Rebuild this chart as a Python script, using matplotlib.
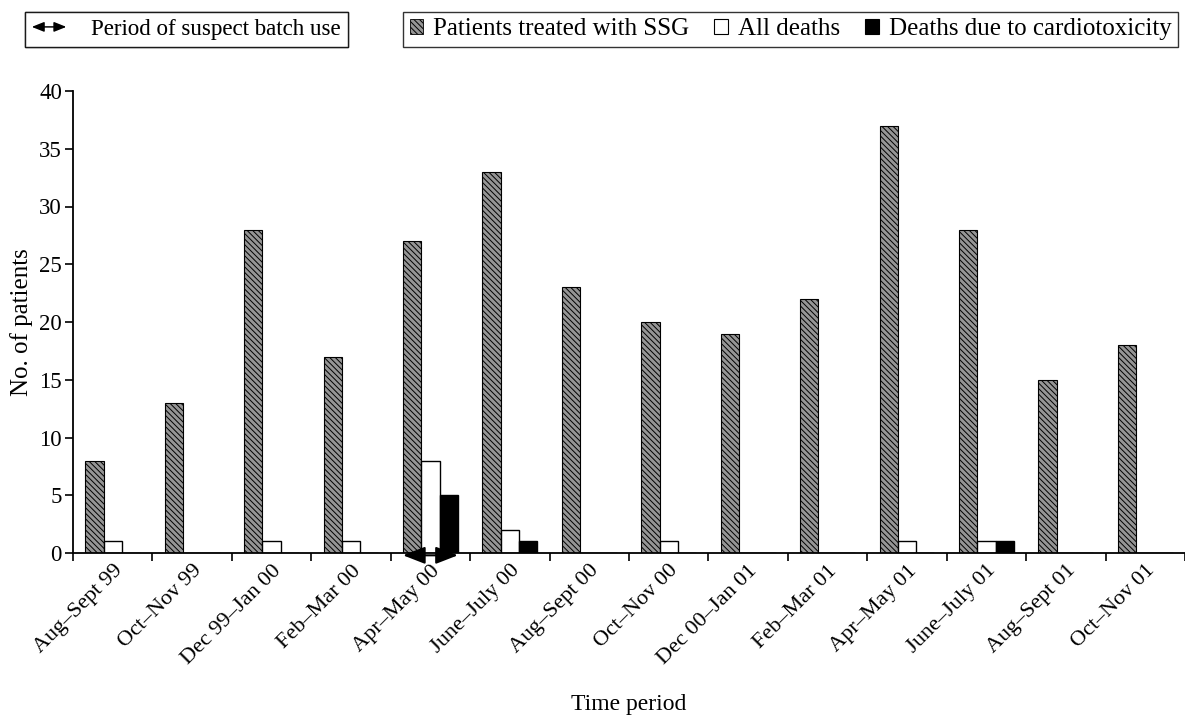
import numpy as np
import matplotlib
matplotlib.use("Agg")
from matplotlib import pyplot as plt
from matplotlib.patches import Patch, FancyArrowPatch
from matplotlib.legend_handler import HandlerBase

plt.rcParams['font.family'] = ['Liberation Serif', 'DejaVu Serif']
plt.rcParams['hatch.color'] = '#5e5e5e'
plt.rcParams['hatch.linewidth'] = 0.7

periods = ['Aug\u2013Sept 99', 'Oct\u2013Nov 99', 'Dec 99\u2013Jan 00', 'Feb\u2013Mar 00',
           'Apr\u2013May 00', 'June\u2013July 00', 'Aug\u2013Sept 00', 'Oct\u2013Nov 00',
           'Dec 00\u2013Jan 01', 'Feb\u2013Mar 01', 'Apr\u2013May 01', 'June\u2013July 01',
           'Aug\u2013Sept 01', 'Oct\u2013Nov 01']
treated = [8, 13, 28, 17, 27, 33, 23, 20, 19, 22, 37, 28, 15, 18]
all_deaths = [1, 0, 1, 1, 8, 2, 0, 1, 0, 0, 1, 1, 0, 0]
cardio_deaths = [0, 0, 0, 0, 5, 1, 0, 0, 0, 0, 0, 1, 0, 0]
suspect_period = 'Apr\u2013May 00'

FS = 16.5
GRAY = '#959595'
HATCH = '\\\\\\\\\\\\'


class HandlerArrow(HandlerBase):
    def create_artists(self, legend, orig_handle, xdescent, ydescent,
                       width, height, fontsize, trans):
        y = height / 2 - ydescent
        arr = FancyArrowPatch((-xdescent, y), (-xdescent + width, y),
                              arrowstyle='<|-|>,head_length=0.45,head_width=0.18',
                              mutation_scale=fontsize, color='black', lw=1.0,
                              shrinkA=0, shrinkB=0, transform=trans)
        return [arr]


fig = plt.figure(figsize=(11.85, 7.19), dpi=100)
ax = fig.add_axes([73 / 1185, 1 - 553 / 719, (1185 - 73) / 1185, (553 - 91) / 719])

x = np.arange(len(periods))
w = 0.23
ax.bar(x + 0.5 - w, treated, w, color=GRAY, edgecolor='black',
       linewidth=0.8, hatch=HATCH)
ax.bar(x + 0.5, all_deaths, w, color='white', edgecolor='black', linewidth=1.0)
ax.bar(x + 0.5 + w, cardio_deaths, w, color='black', edgecolor='black', linewidth=1.0)

# arrow under the suspect batch period
k = periods.index(suspect_period)
ax.annotate('', xy=(k + 0.5 - 1.5 * w, -0.2), xytext=(k + 0.5 + 1.5 * w, -0.2),
            arrowprops=dict(arrowstyle='<|-|>,head_length=0.9,head_width=0.35',
                            color='black', lw=1.5, shrinkA=0, shrinkB=0,
                            mutation_scale=15),
            annotation_clip=False, zorder=5)

ax.set_xlim(0, len(periods))
ax.set_ylim(0, 40)
ax.set_yticks(np.arange(0, 41, 5))
ax.set_xticks(np.arange(len(periods) + 1))
ax.set_xticklabels([])
ax.set_xticks(x + 0.5, minor=True)
ax.set_xticklabels(periods, minor=True, rotation=45, ha='right',
                   rotation_mode='anchor', fontsize=16)
ax.tick_params(axis='x', which='minor', length=0, pad=6)
ax.tick_params(axis='x', which='major', length=6, width=1.2, direction='out')
ax.tick_params(axis='y', length=6, width=1.2, direction='out', labelsize=16.5, pad=2)
for s in ['top', 'right']:
    ax.spines[s].set_visible(False)
for s in ['left', 'bottom']:
    ax.spines[s].set_linewidth(1.3)

ax.set_ylabel('No. of patients', fontsize=18)
ax.yaxis.set_label_coords(-0.036, 0.5)
ax.set_xlabel('Time period', fontsize=17)
ax.xaxis.set_label_coords(0.5, -0.305)

leg1 = fig.legend([object()], ['Period of suspect batch use'],
                  handler_map={object: HandlerArrow()},
                  loc='upper left', bbox_to_anchor=(25 / 1185, 1 - 12 / 719),
                  fontsize=FS, frameon=True, fancybox=False, edgecolor='black',
                  handlelength=1.5, handletextpad=1.1, borderpad=0.3,
                  borderaxespad=0)
leg1.get_frame().set_linewidth(1.0)
fig.add_artist(leg1)

handles = [Patch(facecolor=GRAY, edgecolor='black', hatch=HATCH, lw=0.6),
           Patch(facecolor='white', edgecolor='black', lw=0.8),
           Patch(facecolor='black', edgecolor='black', lw=0.8)]
leg2 = fig.legend(handles, ['Patients treated with SSG', 'All deaths',
                            'Deaths due to cardiotoxicity'],
                  loc='upper right', bbox_to_anchor=(1178 / 1185, 1 - 12 / 719),
                  ncol=3, fontsize=18, frameon=True, fancybox=False,
                  edgecolor='black', handlelength=0.55, handleheight=0.55,
                  handletextpad=0.4, columnspacing=1.0, borderpad=0.25,
                  borderaxespad=0)
leg2.get_frame().set_linewidth(1.0)

fig.savefig('out.png', dpi=100)
